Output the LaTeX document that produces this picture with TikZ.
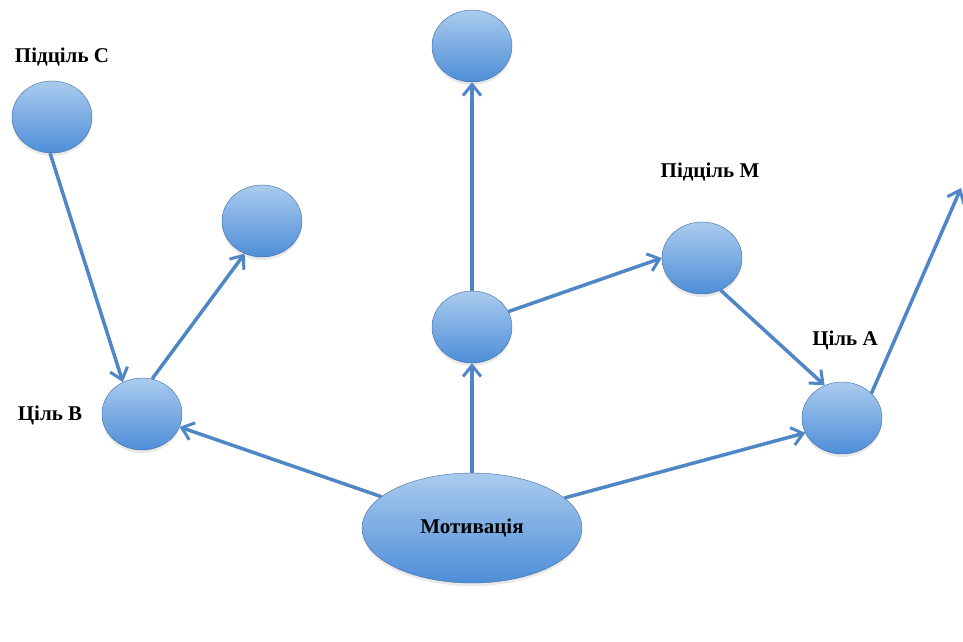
\documentclass[tikz,border=0pt]{standalone}
\usepackage{fontspec}
\setmainfont{Liberation Serif}
\usetikzlibrary{shapes.geometric,arrows.meta,shadows}
\definecolor{goalline}{HTML}{4F86C6}
\definecolor{goaltop}{HTML}{AACBEE}
\definecolor{goalbot}{HTML}{4E8ED8}
\tikzset{
  goal/.style={ellipse,draw=goalline!80!black,thin,top color=goaltop,bottom color=goalbot,
    minimum width=80pt,minimum height=72pt,inner sep=0pt,
    drop shadow={opacity=0.18,shadow xshift=0pt,shadow yshift=-3pt}},
  link/.style={draw=goalline,line width=3.5pt,-{Straight Barb[length=11pt,width=18pt,line width=3pt]}},
  lbl/.style={font=\fontsize{21}{24}\selectfont\bfseries,inner sep=0pt}
}
\begin{document}
\begin{tikzpicture}[x=1pt,y=-1pt]
\useasboundingbox (0,0) rectangle (963,641);
% goals
\node[goal] (subC) at (52,117) {};
\node[goal] (top) at (472,46) {};
\node[goal] (side) at (262,221) {};
\node[goal] (mid) at (472,327) {};
\node[goal] (subM) at (702,258) {};
\node[goal] (goalA) at (842,418) {};
\node[goal] (goalB) at (142,414) {};
\node[goal,minimum width=220pt,minimum height=110pt,lbl] (motiv) at (472,528) {Мотивація};
\coordinate (out) at (961,188);
% labels
\node[lbl] (lblC) at (62,57) {Підціль C};
\node[lbl] (lblM) at (710,172) {Підціль M};
\node[lbl] (lblA) at (845,340) {Ціль A};
\node[lbl] (lblB) at (50,415) {Ціль B};
% links
\draw[link] (subC.-93) -- (goalB.121);
\draw[link] (goalB.74) -- (side.242);
\draw[link] (motiv) -- (goalB);
\draw[link] (motiv) -- (mid);
\draw[link] (mid) -- (top);
\draw[link] (mid.23) -- (subM.180);
\draw[link] (subM.-60) -- (goalA.118);
\draw[link] (motiv.18) -- (goalA.202);
\draw[link] (goalA.40) -- (out);
\end{tikzpicture}
\end{document}
